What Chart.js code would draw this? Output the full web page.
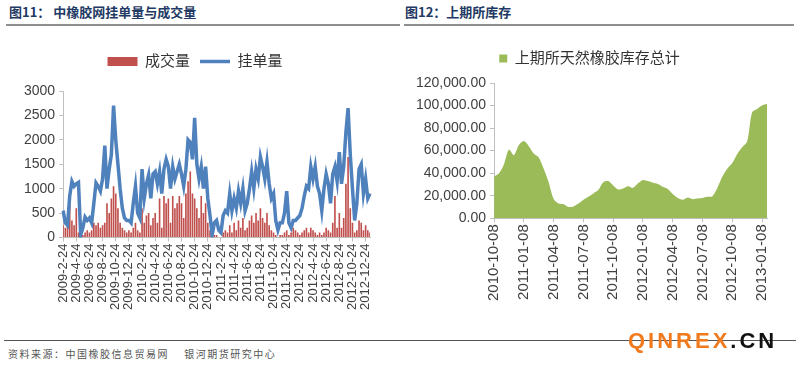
<!DOCTYPE html>
<html>
<head>
<meta charset="utf-8">
<script src="https://cdn.jsdelivr.net/npm/chart.js@4.4.1/dist/chart.umd.min.js"></script>
<style>
  body { margin: 0; width: 800px; height: 366px; background: #fff; position: relative; overflow: hidden; font-family: 'Noto Sans CJK SC', sans-serif; }
  .title { position: absolute; top: 2px; font-size: 13px; font-weight: bold; color: #1f3a64; }
  .rule { position: absolute; height: 2px; background: #8f8f8f; }
  canvas { position: absolute; }
  .src { position: absolute; left: 8px; top: 346px; font-size: 10px; color: #555; letter-spacing: 1.5px; }
  .mark { position: absolute; left: 628px; top: 328px; font: bold 22px 'Liberation Sans', sans-serif; letter-spacing: 3px; color: #f07a1e; }
  .mark span { color: #111; }
</style>
</head>
<body>
<div class="title" style="left:9px">图11： 中橡胶网挂单量与成交量</div>
<div class="title" style="left:405px">图12：上期所库存</div>
<div class="rule" style="left:6px; width:394px; top:24px"></div>
<div class="rule" style="left:404px; width:390px; top:24px"></div>

<canvas id="left" width="400" height="296" style="left:0; top:36px"></canvas>
<canvas id="right" width="400" height="296" style="left:400px; top:36px"></canvas>

<div class="rule" style="left:4px; width:792px; top:340px; height:1px; background:#555"></div>
<div class="src">资料来源：中国橡胶信息贸易网　 银河期货研究中心</div>
<div class="mark">QINREX<span>.CN</span></div>

<script>
// 图11: one tick label every 6 points (2 months)
const leftTicks = ['2009-2-24', '2009-4-24', '2009-6-24', '2009-8-24', '2009-10-24', '2009-12-24',
  '2010-2-24', '2010-4-24', '2010-6-24', '2010-8-24', '2010-10-24', '2010-12-24',
  '2011-2-24', '2011-4-24', '2011-6-24', '2011-8-24', '2011-10-24', '2011-12-24',
  '2012-2-24', '2012-4-24', '2012-6-24', '2012-8-24', '2012-10-24', '2012-12-24'];

// 挂单量
const orders = [550, 300, 250, 850, 1150, 1050,
  1100, 1130, 50, 200, 420, 350,
  400, 300, 700, 1120, 1050, 950,
  1200, 1880, 1000, 1400, 1700, 2700,
  2000, 1500, 1000, 600, 400, 350,
  350, 300, 700, 1050, 500, 400,
  1400, 800, 1100, 1280, 800, 1300,
  1350, 1100, 1350, 900, 1400, 1600,
  1450, 1000, 1450, 1200, 1350, 1500,
  1300, 1050, 1400, 2000, 1950, 1600,
  2450, 1500, 1200, 1450, 1000, 1450,
  800, 450, 50, 300, 350, 150,
  100, 450, 550, 500, 900, 550,
  800, 600, 950, 700, 1000, 550,
  700, 1000, 1350, 1000, 1400, 1200,
  1650, 1450, 1200, 1550, 1100, 800,
  900, 350, 150, 300, 300, 500,
  950, 300, 200, 350, 350, 400,
  450, 600, 850, 1050, 1000, 1450,
  1200, 1450, 1050, 900, 550, 1000,
  1300, 1100, 700, 1300, 1450, 1150,
  1750, 1100, 1450, 2150, 2650, 1700,
  1000, 350, 700, 1400, 1500, 900,
  1200, 800, 900];

// 成交量
const deals = [250, 200, 300, 700, 350, 250,
  600, 100, 0, 50, 100, 150,
  100, 150, 300, 250, 300, 200,
  250, 300, 700, 500, 800, 1050,
  900, 600, 300, 200, 150, 100,
  150, 100, 200, 300, 150, 100,
  600, 300, 450, 500, 250, 400,
  500, 300, 800, 200, 850, 700,
  800, 300, 850, 600, 700, 850,
  700, 400, 900, 1150, 1350, 900,
  800, 600, 400, 850, 500, 700,
  300, 150, 0, 50, 50, 0,
  0, 100, 150, 100, 250, 100,
  300, 150, 350, 200, 400, 150,
  200, 350, 450, 300, 500, 350,
  600, 400, 300, 500, 250, 150,
  100, 50, 0, 50, 50, 100,
  150, 50, 100, 200, 150, 100,
  50, 100, 150, 200, 100, 200,
  150, 100, 50, 100, 50, 100,
  200, 150, 100, 300, 850, 200,
  500, 200, 400, 1100, 1650, 600,
  300, 100, 150, 350, 300, 150,
  250, 150, 100];

// 图12: one tick label every 6 points (3 months)
const rightTicks = ['2010-10-08', '2011-01-08', '2011-04-08', '2011-07-08', '2011-10-08',
  '2012-01-08', '2012-04-08', '2012-07-08', '2012-10-08', '2013-01-08'];

// 上期所天然橡胶库存总计
const stock = [37000, 40000, 48000, 61000, 56000, 65000,
  68500, 64000, 57500, 54000, 44000, 32000,
  17000, 13000, 12500, 10000, 10500, 13000,
  16500, 19000, 22000, 25000, 32000, 33000,
  29000, 25500, 26500, 28500, 27000, 31000,
  34000, 33000, 31500, 30500, 28000, 26000,
  21500, 18000, 16500, 18500, 17000, 17500,
  18000, 19000, 19500, 27000, 37000, 44000,
  49000, 57000, 63000, 68000, 94000, 97000,
  100000, 101500];

function spread(ticks, n) {
  return Array.from({ length: n }, (_, i) => (i % 6 === 0 ? ticks[i / 6] : ''));
}
const everySixth = (axis) => { axis.ticks = axis.ticks.filter(t => t.value % 6 === 0); };

// extra room under the legend
function legendGap(px) {
  return {
    id: 'legendGap',
    beforeInit(chart) {
      const fit = chart.legend.fit;
      chart.legend.fit = function () {
        fit.call(this);
        this.height += px;
      };
    }
  };
}

Chart.defaults.font.family = "'Liberation Sans', 'Noto Sans CJK SC', sans-serif";
Chart.defaults.color = '#404040';
Chart.defaults.animation = false;

const axisGray = '#bfbfbf';

new Chart(document.getElementById('left'), {
  type: 'bar',
  data: {
    labels: spread(leftTicks, orders.length),
    datasets: [
      {
        type: 'bar',
        label: '成交量',
        data: deals,
        backgroundColor: '#c0504d',
        borderWidth: 0,
        barPercentage: 0.75,
        categoryPercentage: 1,
        pointStyle: 'rect',
        order: 2
      },
      {
        type: 'line',
        label: '挂单量',
        data: orders,
        borderColor: '#4f81bd',
        backgroundColor: '#4f81bd',
        borderWidth: 3.5,
        pointRadius: 0,
        pointStyle: 'line',
        tension: 0,
        order: 1
      }
    ]
  },
  plugins: [legendGap(12)],
  options: {
    responsive: false,
    layout: { padding: { left: 20, right: 30, top: 8, bottom: 20 } },
    plugins: {
      tooltip: { enabled: false },
      legend: {
        labels: {
          usePointStyle: true,
          pointStyleWidth: 30,
          boxHeight: 9,
          padding: 10,
          color: '#333',
          font: { size: 15 },
          sort: (a, b) => a.datasetIndex - b.datasetIndex
        }
      }
    },
    scales: {
      x: {
        offset: false,
        afterBuildTicks: everySixth,
        grid: { offset: false, drawOnChartArea: false, tickLength: 4, color: axisGray },
        border: { color: axisGray },
        ticks: { autoSkip: false, minRotation: 90, maxRotation: 90, padding: 2, font: { size: 13 } }
      },
      y: {
        min: 0,
        max: 3000,
        ticks: { stepSize: 500, padding: 4, font: { size: 14 }, callback: (v) => String(v) },
        grid: { drawOnChartArea: false, tickLength: 4, color: axisGray },
        border: { color: axisGray }
      }
    }
  }
});

new Chart(document.getElementById('right'), {
  type: 'line',
  data: {
    labels: spread(rightTicks, stock.length),
    datasets: [
      {
        label: '上期所天然橡胶库存总计',
        data: stock,
        borderWidth: 0,
        borderColor: '#9bbb59',
        backgroundColor: '#9bbb59',
        fill: 'origin',
        pointRadius: 0,
        tension: 0.3
      }
    ]
  },
  plugins: [legendGap(7)],
  options: {
    responsive: false,
    layout: { padding: { left: 12, right: 33, top: 5, bottom: 29 } },
    plugins: {
      tooltip: { enabled: false },
      legend: {
        labels: { boxWidth: 8, boxHeight: 8, color: '#333', font: { size: 15 } }
      }
    },
    scales: {
      x: {
        offset: false,
        afterBuildTicks: everySixth,
        grid: { drawOnChartArea: false, tickLength: 4, color: axisGray },
        border: { color: axisGray },
        ticks: { autoSkip: false, minRotation: 90, maxRotation: 90, padding: 2, font: { size: 15 } }
      },
      y: {
        min: 0,
        max: 120000,
        ticks: {
          stepSize: 20000,
          padding: 4,
          font: { size: 14 },
          callback: (v) => v.toLocaleString('en-US', { minimumFractionDigits: 2, maximumFractionDigits: 2 })
        },
        grid: { drawOnChartArea: false, tickLength: 4, color: axisGray },
        border: { color: axisGray }
      }
    }
  }
});
</script>
</body>
</html>
